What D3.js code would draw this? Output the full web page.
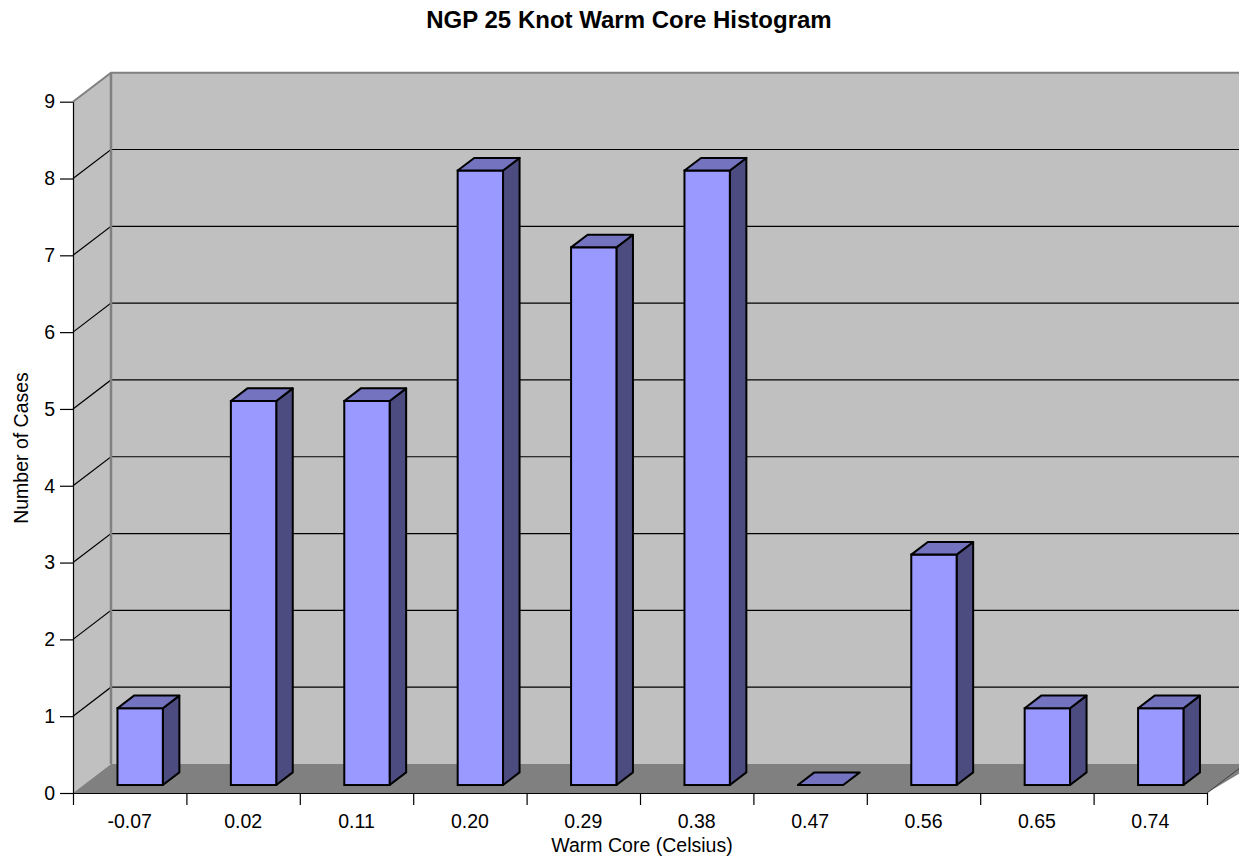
<!DOCTYPE html>
<html>
<head>
<meta charset="utf-8">
<script src="https://cdn.jsdelivr.net/npm/d3@7"></script>
<style>
  html, body { margin: 0; padding: 0; background: #ffffff; }
  svg { display: block; font-family: Arial, "Liberation Sans", sans-serif; }
</style>
</head>
<body>
<svg id="chart" width="1239" height="864"></svg>
<script>
// ---- data ----
const categories = ["-0.07", "0.02", "0.11", "0.20", "0.29", "0.38", "0.47", "0.56", "0.65", "0.74"];
const counts = [1, 5, 5, 8, 7, 8, 0, 3, 1, 1];
const yTicks = [0, 1, 2, 3, 4, 5, 6, 7, 8, 9];
const titleText = "NGP 25 Knot Warm Core Histogram";
const xTitle = "Warm Core (Celsius)";
const yTitle = "Number of Cases";

(function () {
// ---- layout ----
const W = 1239, H = 864;
const pLeft = 73, pRight = 1207, pBottom = 793, pTop = 101.7;
const DX = 38, DY = -29;          // depth offset of the back wall
const f0 = 0.275, f1 = 0.71;      // bar depth range (fraction of full depth)

const svg = d3.select("#chart");

const x = d3.scaleBand().domain(categories).range([pLeft, pRight]).paddingInner(0.6).paddingOuter(0.3);
const xEdge = d3.scaleLinear().domain([0, categories.length]).range([pLeft, pRight]);
const y = d3.scaleLinear().domain([0, 9]).range([pBottom, pTop]);

const line = d3.line();

// back wall
svg.append("rect")
  .attr("x", pLeft + DX).attr("y", y(9) + DY)
  .attr("width", pRight - pLeft + 10).attr("height", y(0) - y(9))
  .attr("fill", "#c0c0c0");
// side wall
svg.append("path")
  .attr("d", line([[pLeft, y(9)], [pLeft + DX, y(9) + DY], [pLeft + DX, y(0) + DY], [pLeft, y(0)]]) + "Z")
  .attr("fill", "#c0c0c0");
// floor
svg.append("path")
  .attr("d", line([[pLeft, y(0)], [pLeft + DX, y(0) + DY], [pRight + DX + 10, y(0) + DY], [pRight, y(0)]]) + "Z")
  .attr("fill", "#808080");

// gridlines (back wall + side wall)
const gridVals = yTicks.filter(v => v > 0 && v < 9);
svg.append("g").selectAll("path").data(gridVals).join("path")
  .attr("d", v => line([[pLeft, y(v)], [pLeft + DX, y(v) + DY], [W + 5, y(v) + DY]]))
  .attr("fill", "none").attr("stroke", "#000").attr("stroke-width", 1.2);

// wall edges (gray)
svg.append("path")
  .attr("d", line([[pLeft, y(9)], [pLeft + DX, y(9) + DY], [W + 5, y(9) + DY]]))
  .attr("fill", "none").attr("stroke", "#808080").attr("stroke-width", 2);
svg.append("path")
  .attr("d", line([[pLeft + DX, y(9) + DY], [pLeft + DX, y(0) + DY]]))
  .attr("fill", "none").attr("stroke", "#808080").attr("stroke-width", 2.5);
// floor right edge
svg.append("path")
  .attr("d", line([[pRight, y(0)], [pRight + DX, y(0) + DY]]))
  .attr("fill", "none").attr("stroke", "#404040").attr("stroke-width", 1);

// bars
const ddx = DX * (f1 - f0), ddy = DY * (f1 - f0);
const bars = svg.append("g").selectAll("g").data(categories.map((c, i) => ({ c, v: counts[i] }))).join("g");
bars.each(function (d) {
  const g = d3.select(this);
  const x0 = x(d.c) + DX * f0, x1 = x0 + x.bandwidth();
  const yT = y(d.v) + DY * f0, yB = y(0) + DY * f0;
  if (d.v > 0) {
    g.append("path")
      .attr("d", line([[x1, yT], [x1 + ddx, yT + ddy], [x1 + ddx, yB + ddy], [x1, yB]]) + "Z")
      .attr("fill", "#4c4c80").attr("stroke", "#000").attr("stroke-width", 2).attr("stroke-linejoin", "round");
    g.append("rect")
      .attr("x", x0).attr("y", yT).attr("width", x1 - x0).attr("height", yB - yT)
      .attr("fill", "#9999ff").attr("stroke", "#000").attr("stroke-width", 2);
  }
  g.append("path")
    .attr("d", line([[x0, yT], [x1, yT], [x1 + ddx, yT + ddy], [x0 + ddx, yT + ddy]]) + "Z")
    .attr("fill", "#7373bf").attr("stroke", "#000").attr("stroke-width", 2).attr("stroke-linejoin", "round");
});

// y axis
const yAxis = svg.append("g").attr("transform", `translate(${pLeft},0)`)
  .call(d3.axisLeft(y).tickValues(yTicks).tickSize(13).tickSizeOuter(0).tickPadding(5));
yAxis.select(".domain").attr("stroke", "#000").attr("stroke-width", 1.2);
yAxis.selectAll(".tick line").attr("stroke", "#000").attr("stroke-width", 1.2);
yAxis.selectAll(".tick text").attr("font-size", "19.5px").attr("fill", "#000")
  .attr("font-family", "Arial, 'Liberation Sans', sans-serif");

// x axis boundary ticks
const xTickAxis = svg.append("g").attr("transform", `translate(0,${pBottom})`)
  .call(d3.axisBottom(xEdge).tickValues(d3.range(categories.length + 1)).tickFormat("").tickSize(12).tickSizeOuter(0));
xTickAxis.select(".domain").attr("stroke", "#000").attr("stroke-width", 1.2);
xTickAxis.selectAll(".tick line").attr("stroke", "#000").attr("stroke-width", 1.2);

// x axis labels
const xLab = svg.append("g").attr("transform", `translate(0,${pBottom})`)
  .call(d3.axisBottom(d3.scaleBand().domain(categories).range([pLeft, pRight])).tickSize(0).tickPadding(21));
xLab.select(".domain").remove();
xLab.selectAll(".tick text").attr("font-size", "19.5px").attr("fill", "#000")
  .attr("font-family", "Arial, 'Liberation Sans', sans-serif");

// titles
svg.append("text").attr("x", 629).attr("y", 28).attr("text-anchor", "middle")
  .attr("font-size", "24px").attr("font-weight", "bold").text(titleText);
svg.append("text").attr("x", 642).attr("y", 852).attr("text-anchor", "middle")
  .attr("font-size", "19.5px").text(xTitle);
svg.append("text").attr("transform", "translate(28,448) rotate(-90)").attr("text-anchor", "middle")
  .attr("font-size", "19.5px").text(yTitle);
})();
</script>
</body>
</html>
